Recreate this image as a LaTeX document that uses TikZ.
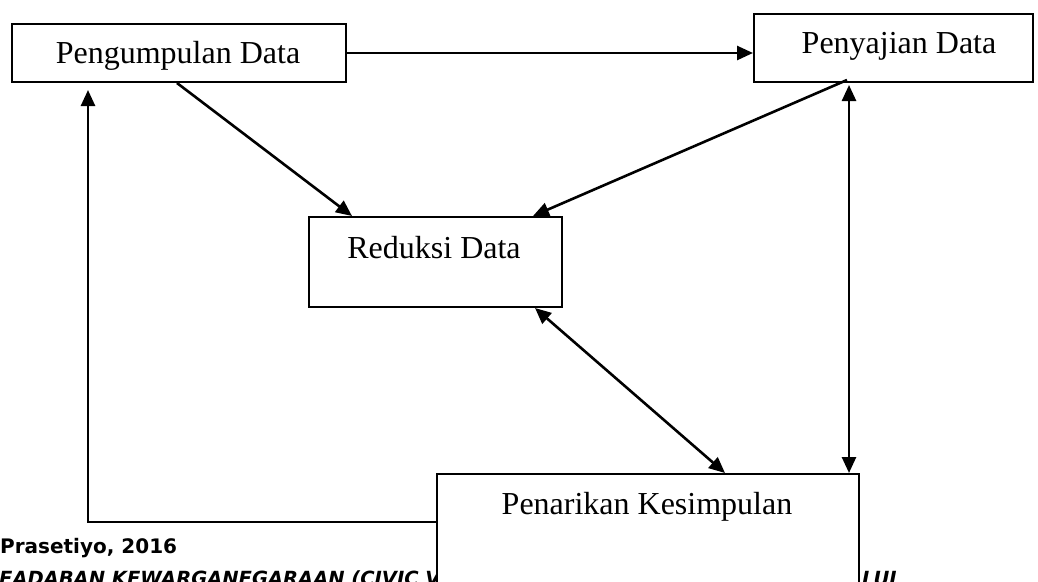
\documentclass[tikz,border=0pt]{standalone}
\usepackage{fontspec}
\setmainfont{Liberation Serif}
\newfontfamily\footfont{DejaVu Sans}
\usetikzlibrary{arrows.meta}
\begin{document}
\begin{tikzpicture}[x=1pt,y=-1pt,
  box/.style={draw, line width=2pt, fill=white, inner sep=0pt, anchor=north west},
  lbl/.style={font=\fontsize{32}{36}\selectfont, anchor=base, inner sep=0pt},
  conn/.style={line width=2.6pt, -{Triangle[length=16pt,width=14pt]}},
  dconn/.style={line width=2.6pt, {Triangle[length=16pt,width=14pt]}-{Triangle[length=16pt,width=14pt]}},
  foot/.style={font=\footfont\bfseries\fontsize{20}{22}\selectfont, anchor=base west, inner sep=0pt},
  footi/.style={font=\footfont\bfseries\itshape\fontsize{19.5}{22}\selectfont, anchor=base west, inner sep=0pt}]
\useasboundingbox (0,0) rectangle (1038,581);
\clip (0,0) rectangle (1038,581);
\fill[white] (0,0) rectangle (1038,581);
% footer text (partly hidden by the bottom box)
\node[foot] (f1) at (0,553) {Prasetiyo, 2016};
\node[footi] (f2) at (-1,585) {EADABAN KEWARGANEGARAAN (CIVIC V};
\node[footi] (f3) at (862,585) {LUI};
% boxes
\node[box, minimum width=334pt, minimum height=58pt] (b1) at (11,23) {};
\node[box, minimum width=279pt, minimum height=68pt] (b2) at (753,13) {};
\node[box, minimum width=253pt, minimum height=90pt] (b3) at (308,216) {};
\node[box, minimum width=422pt, minimum height=150pt] (b4) at (436,473) {};
% labels
\node[lbl] (t1) at (178,63) {Pengumpulan Data};
\node[lbl] (t2) at (899,53) {Penyajian Data};
\node[lbl] (t3) at (434,258) {Reduksi Data};
\node[lbl] (t4) at (647,514) {Penarikan Kesimpulan};
% connectors
\draw[conn] (b1.east) -- (b1.east -| b2.west);
\draw[conn] ([xshift=166pt]b1.south west) -- ([xshift=44pt]b3.north west);
\draw[conn] ([xshift=94pt,yshift=3pt]b2.south west) -- ([xshift=225pt]b3.north west);
\draw[dconn, shorten <=2pt] ([xshift=96pt]b2.south west) -- ([xshift=413pt]b4.north west);
\draw[dconn] ([xshift=227pt]b3.south west) -- ([xshift=289pt]b4.north west);
\draw[conn, shorten >=7pt] ([yshift=-49pt]b4.north west) -| ([xshift=77pt]b1.south west);
\end{tikzpicture}
\end{document}
